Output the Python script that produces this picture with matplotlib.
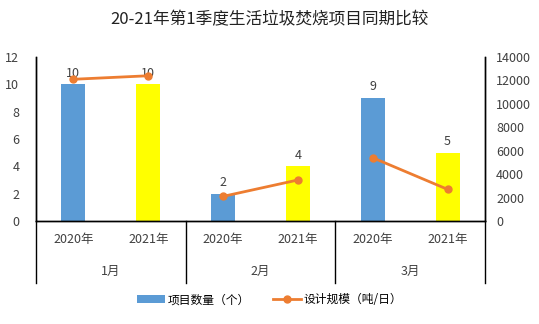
import matplotlib.pyplot as plt
import numpy as np

plt.rcParams['font.family'] = ['Noto Sans CJK SC', 'DejaVu Sans']

# 数据
months = ['1月', '2月', '3月']
years = ['2020年', '2021年']
count_2020 = [10, 2, 9]          # 项目数量（个）
count_2021 = [10, 4, 5]
scale_2020 = [12100, 2100, 5400]  # 设计规模（吨/日）
scale_2021 = [12400, 3500, 2700]

blue = '#5B9BD5'
yellow = '#FFFF00'
orange = '#ED7D31'

fig = plt.figure(figsize=(5.39, 3.24), dpi=100)
ax1 = fig.add_axes([0.0668, 0.318, 0.833, 0.506])
ax2 = ax1.twinx()

n = len(months)
x20 = np.arange(n) * 2 + 0.5
x21 = np.arange(n) * 2 + 1.5
w = 0.32

ax1.bar(x20, count_2020, w, color=blue, label='项目数量（个）')
ax1.bar(x21, count_2021, w, color=yellow)
for xa, va in zip(np.concatenate([x20, x21]), count_2020 + count_2021):
    ax1.text(xa, va + 0.35, str(va), ha='center', va='bottom', fontsize=9, color='#404040')

# 折线按月份分段
for i in range(n):
    ax2.plot([x20[i], x21[i]], [scale_2020[i], scale_2021[i]], '-o', color=orange,
             lw=2, ms=5, label='设计规模（吨/日）' if i == 0 else None)

ax1.set_xlim(0, 2 * n)
ax1.set_ylim(0, 12)
ax2.set_ylim(0, 14000)
ax1.set_yticks(range(0, 13, 2))
ax2.set_yticks(range(0, 14001, 2000))

for a in (ax1, ax2):
    a.spines['top'].set_visible(False)
    a.tick_params(length=0, labelsize=9, labelcolor='#404040')
    for s in a.spines.values():
        s.set_color('black')
        s.set_linewidth(1)
ax1.tick_params(axis='y', pad=12)
ax2.tick_params(axis='y', pad=8)
ax1.set_xticks([])

# 分组刻度标签
for i in range(n):
    ax1.text(x20[i], -0.11, years[0], transform=ax1.get_xaxis_transform(),
             ha='center', va='center', fontsize=9, color='#404040')
    ax1.text(x21[i], -0.11, years[1], transform=ax1.get_xaxis_transform(),
             ha='center', va='center', fontsize=9, color='#404040')
    ax1.text(2 * i + 1, -0.31, months[i], transform=ax1.get_xaxis_transform(),
             ha='center', va='center', fontsize=9, color='#404040')
for xs in range(0, 2 * n + 1, 2):
    ax1.plot([xs, xs], [0, -0.378], transform=ax1.get_xaxis_transform(),
             color='black', lw=1, clip_on=False)

h1, l1 = ax1.get_legend_handles_labels()
h2, l2 = ax2.get_legend_handles_labels()
fig.legend(h1 + h2, l1 + l2, loc='center', bbox_to_anchor=(0.5, 0.075), ncol=2,
           frameon=False, fontsize=8.5, handlelength=2.4, handletextpad=0.2,
           columnspacing=2.0)

fig.text(0.5, 0.938, '20-21年第1季度生活垃圾焚烧项目同期比较', ha='center', va='center',
         fontsize=12, color='#222222')

fig.savefig('out.png', dpi=100)
